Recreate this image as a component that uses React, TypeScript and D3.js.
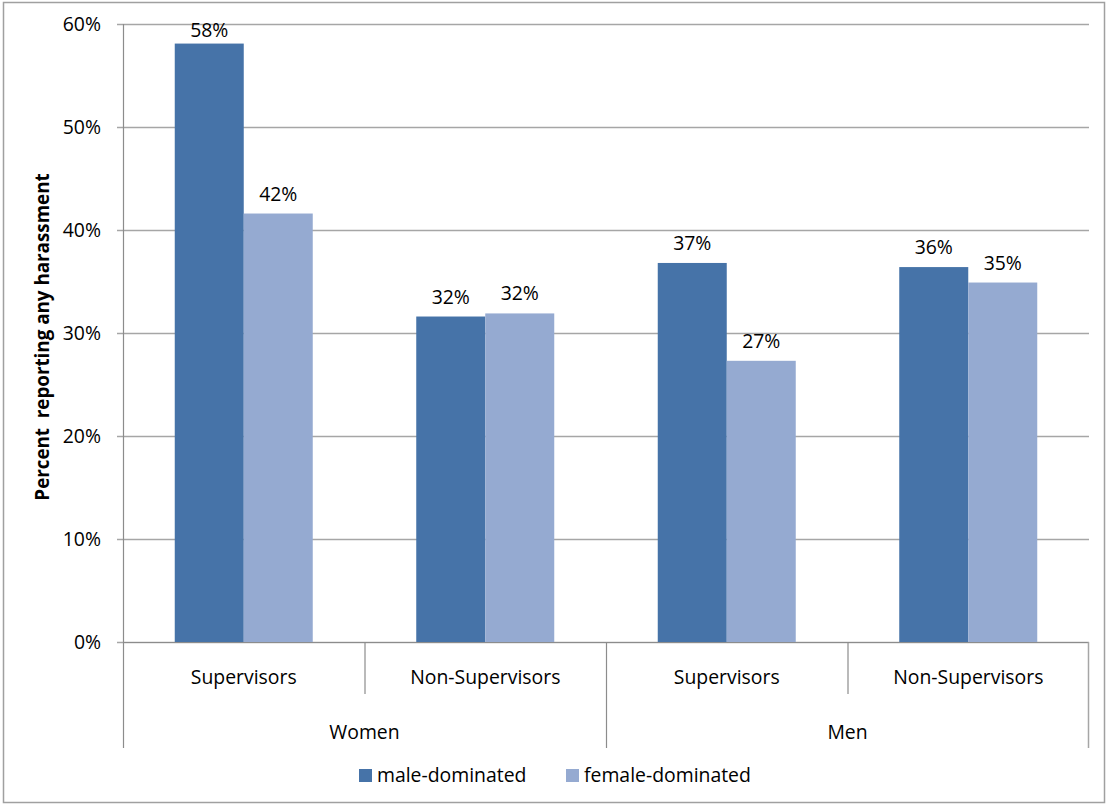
import React from "react";
import * as d3 from "d3";

const groups = ["Women", "Men"];
const subCategories = ["Supervisors", "Non-Supervisors"];
const seriesNames = ["male-dominated", "female-dominated"];
const maleDominated = [0.581, 0.316, 0.368, 0.364];
const femaleDominated = [0.416, 0.319, 0.273, 0.349];
const valueLabels = [
  ["58%", "32%", "37%", "36%"],
  ["42%", "32%", "27%", "35%"],
];
const yTicks = [0, 0.1, 0.2, 0.3, 0.4, 0.5, 0.6];
const colors = ["#4673A8", "#95AAD1"];

const W = 1106;
const H = 804;
const FONT = "'Open Sans', 'Noto Sans', sans-serif";
const FS = 19.4;

export default function App() {
  const left = 123;
  const right = 1089;
  const top = 24;
  const bottom = 642;

  const y = d3.scaleLinear().domain([0, 0.6]).range([bottom, top]);
  const cats = groups.flatMap((g) => subCategories.map((s) => `${g}|${s}`));
  const x = d3.scaleBand().domain(cats).range([left, right]).paddingInner(0).paddingOuter(0);
  const bw = x.bandwidth();
  const barW = bw / 3.5;
  const series = [maleDominated, femaleDominated];

  const groupW = (right - left) / groups.length;

  return (
    <div style={{ position: "absolute", left: 0, top: 0 }}>
      <svg width={W} height={H} style={{ display: "block", fontFamily: FONT }}>
        <rect x={0} y={0} width={W} height={H} fill="#fff" />
        <rect x={3.5} y={2.5} width={W - 5} height={H - 4} fill="none" stroke="#a0a0a0" strokeWidth={1.5} />
        {/* gridlines */}
        {yTicks.map((t) => (
          <line key={"g" + t} x1={left - 6} x2={right} y1={Math.round(y(t)) + 0.5} y2={Math.round(y(t)) + 0.5} stroke="#a6a6a6" strokeWidth={1.3} />
        ))}
        {/* y axis */}
        <line x1={left + 0.5} x2={left + 0.5} y1={top} y2={bottom} stroke="#8c8c8c" strokeWidth={1.2} />
        {yTicks.map((t) => (
          <text key={"t" + t} x={101} y={y(t)} dy="0.35em" textAnchor="end" fontSize={FS} fill="#000">
            {Math.round(t * 100) + "%"}
          </text>
        ))}
        {/* bars */}
        {cats.map((c, i) =>
          series.map((s, j) => {
            const bx = (x(c) as number) + barW * 0.75 + j * barW;
            const by = y(s[i]);
            const labelBase = Math.max(by - 13, top + 13);
            return (
              <g key={c + j}>
                <rect x={bx} y={by} width={barW} height={bottom - by} fill={colors[j]} />
                <text x={bx + barW / 2} y={labelBase} textAnchor="middle" fontSize={FS} fill="#000">
                  {valueLabels[j][i]}
                </text>
              </g>
            );
          })
        )}
        {/* x axis */}
        <line x1={left} x2={right} y1={bottom + 0.5} y2={bottom + 0.5} stroke="#8c8c8c" strokeWidth={1.2} />
        {cats.map((c, i) => {
          const xx = x(c) as number;
          const outer = i % subCategories.length === 0;
          return (
            <line key={"xt" + c} x1={xx + 0.5} x2={xx + 0.5} y1={bottom} y2={outer ? 748 : 694} stroke="#8c8c8c" strokeWidth={1.2} />
          );
        })}
        <line x1={right - 0.5} x2={right - 0.5} y1={bottom} y2={748} stroke="#a6a6a6" strokeWidth={1.5} />
        {cats.map((c, i) => (
          <text key={"xl" + c} x={(x(c) as number) + bw / 2} y={677} dy="0.35em" textAnchor="middle" fontSize={FS} fill="#000">
            {subCategories[i % subCategories.length]}
          </text>
        ))}
        {groups.map((g, i) => (
          <text key={"gl" + g} x={left + groupW * i + groupW / 2} y={732} dy="0.35em" textAnchor="middle" fontSize={FS} fill="#000">
            {g}
          </text>
        ))}
        {/* y title */}
        <text transform={`translate(42,337) rotate(-90)`} textAnchor="middle" dy="0.35em" fontSize={18.8} fontWeight="bold" fill="#000" style={{ whiteSpace: "pre" }}>
          {"Percent  reporting any harassment"}
        </text>
        {/* legend */}
        {seriesNames.map((n, j) => {
          const lx = j === 0 ? 359 : 566;
          return (
            <g key={n}>
              <rect x={lx} y={769} width={13} height={13} fill={colors[j]} />
              <text x={lx + 18} y={775} dy="0.35em" fontSize={FS} fill="#000">
                {n}
              </text>
            </g>
          );
        })}
      </svg>
    </div>
  );
}
